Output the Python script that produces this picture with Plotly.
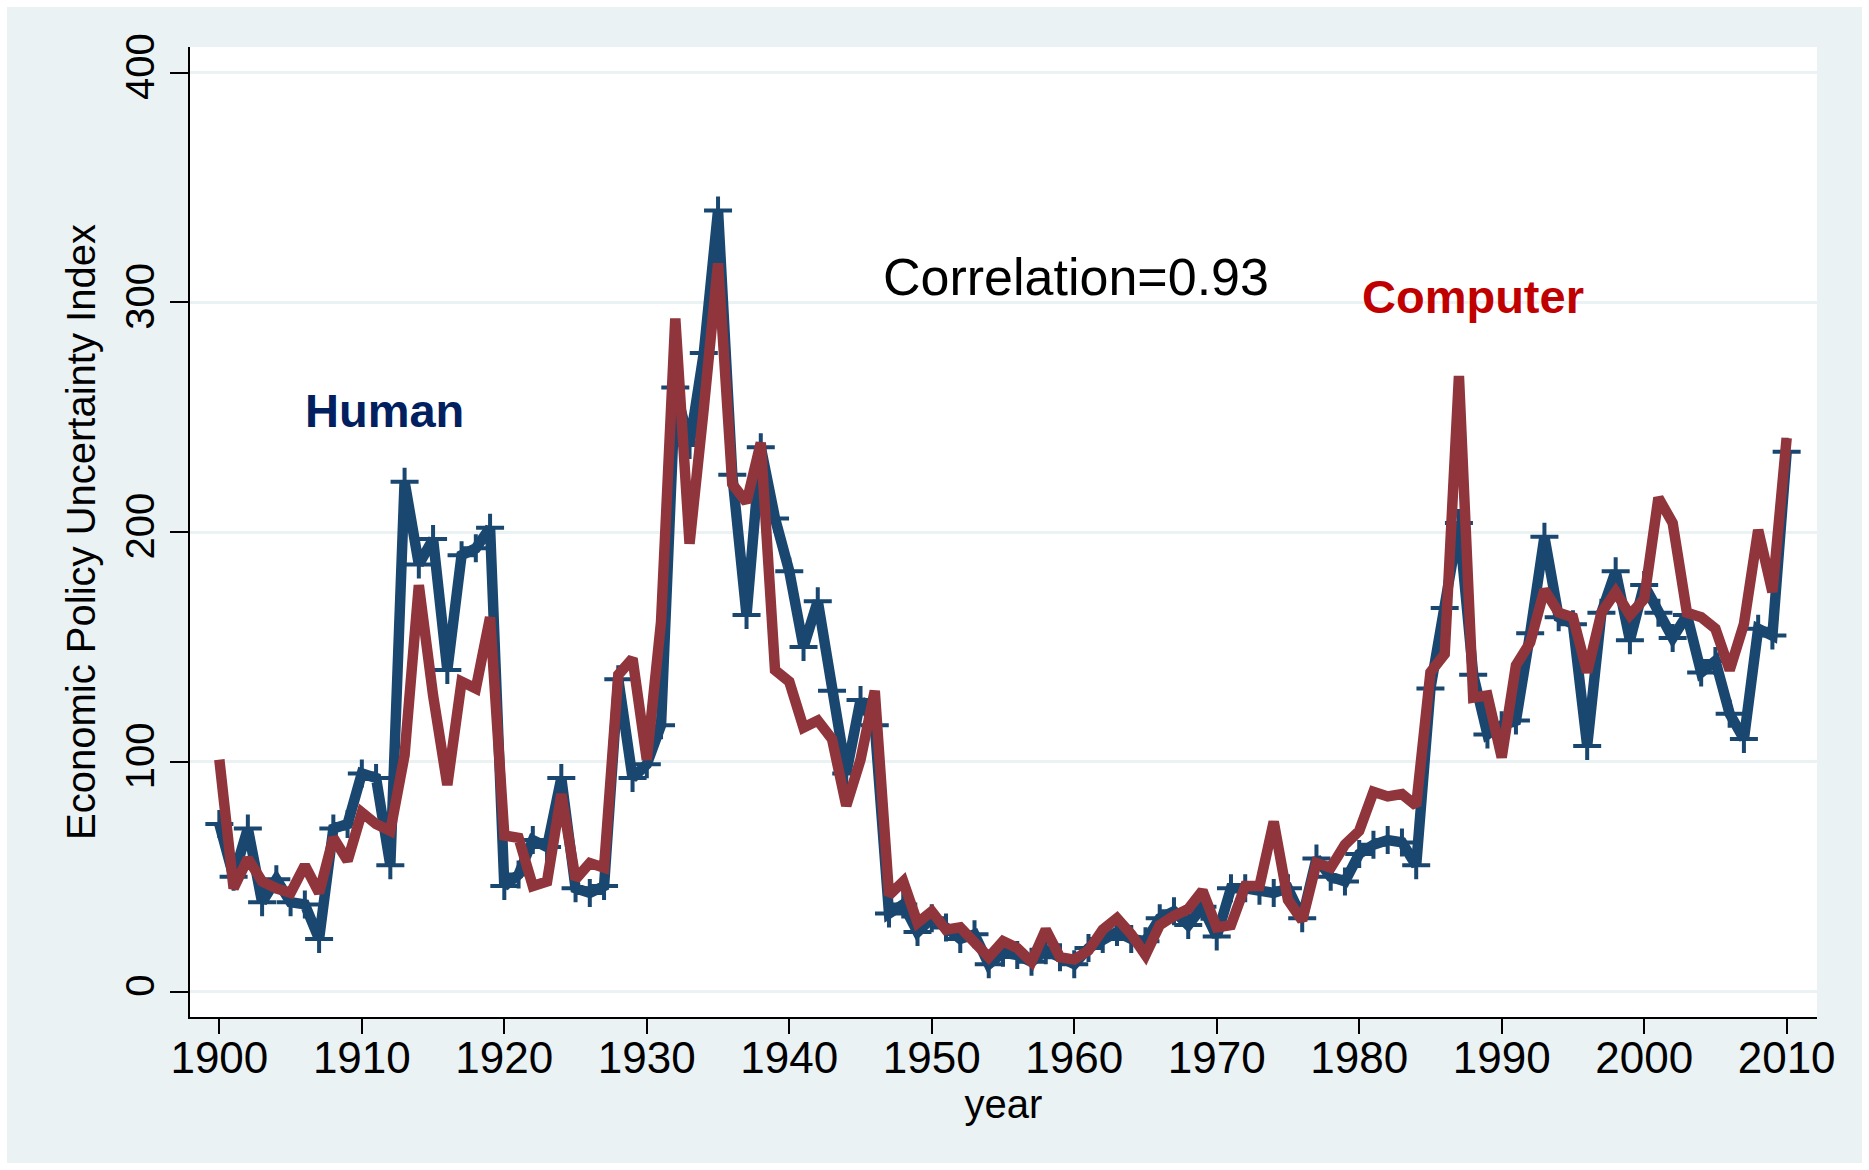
import plotly.graph_objects as go

years = list(range(1900, 2011))

human = [73, 50, 71, 39, 49, 39, 38, 23, 71, 73,
         95, 93, 55, 222, 186, 197, 140, 190, 193, 202,
         46, 51, 66, 63, 93, 45, 43, 46, 136, 93,
         99, 116, 263, 238, 278, 340, 225, 164, 237, 206,
         183, 150, 170, 131, 95, 127, 116, 34, 38, 26,
         32, 28, 23, 25, 12, 17, 16, 13, 18, 15,
         12, 19, 23, 26, 23, 22, 32, 35, 29, 37,
         24, 45, 45, 44, 43, 45, 32, 58, 50, 48,
         60, 64, 66, 65, 55, 132, 167, 204, 138, 112,
         116, 118, 156, 198, 163, 160, 107, 165, 183, 153,
         177, 165, 154, 164, 139, 144, 121, 110, 158, 155,
         235]

computer = [101, 45, 58, 48, 45, 43, 55, 43, 67, 57,
            78, 73, 70, 103, 177, 129, 90, 135, 132, 163,
            68, 67, 46, 48, 86, 49, 56, 54, 138, 145,
            101, 161, 293, 195, 254, 317, 221, 213, 239, 140,
            135, 115, 118, 110, 81, 101, 131, 42, 48, 30,
            35, 27, 28, 22, 15, 22, 19, 13, 27, 15,
            14, 18, 27, 32, 25, 16, 29, 33, 36, 44,
            28, 29, 46, 46, 74, 40, 31, 56, 54, 64,
            70, 87, 85, 86, 81, 139, 147, 268, 128, 129,
            102, 142, 152, 175, 165, 163, 139, 165, 174, 164,
            171, 215, 204, 165, 163, 158, 140, 160, 201, 174,
            241]

x_ticks = [1900, 1910, 1920, 1930, 1940, 1950, 1960, 1970, 1980, 1990, 2000, 2010]
y_ticks = [0, 100, 200, 300, 400]

BLUE = "#1A476F"
RED = "#90353B"
BG = "#EAF2F3"
FONT = "Liberation Sans, Arial, Helvetica, sans-serif"

W, H = 1869, 1170
L, R, T, B = 190, 52, 47, 153

fig = go.Figure()
fig.add_trace(go.Scatter(
    x=years, y=human, mode="lines+markers", name="Human",
    line=dict(color=BLUE, width=10.5),
    marker=dict(symbol="cross-thin", size=20, line=dict(color=BLUE, width=4)),
))
fig.add_trace(go.Scatter(
    x=years, y=computer, mode="lines", name="Computer",
    line=dict(color=RED, width=10.5),
))

fig.add_annotation(x=1960.1, y=311, text="Correlation=0.93", showarrow=False,
                   font=dict(family=FONT, size=52, color="black"), xanchor="center", yanchor="middle")
fig.add_annotation(x=1911.6, y=253, text="<b>Human</b>", showarrow=False,
                   font=dict(family=FONT, size=47, color="#00205F"), xanchor="center", yanchor="middle")
fig.add_annotation(x=1988.0, y=302.5, text="<b>Computer</b>", showarrow=False,
                   font=dict(family=FONT, size=47, color="#C00000"), xanchor="center", yanchor="middle")

pw = W - L - R
ph = H - T - B
# white outer border around the grey graph region
fig.add_shape(type="rect", xref="paper", yref="paper",
              x0=-L / pw, x1=(W - L) / pw, y0=-B / ph, y1=(H - B) / ph,
              line=dict(color="white", width=14), fillcolor="rgba(0,0,0,0)", layer="above")

fig.update_layout(
    width=W, height=H,
    margin=dict(l=L, r=R, t=T, b=B, pad=0),
    paper_bgcolor=BG, plot_bgcolor="white",
    showlegend=False,
    font=dict(family=FONT, color="black"),
)
fig.update_xaxes(
    range=[1897.94, 2012.13], tickvals=x_ticks, ticktext=[str(v) for v in x_ticks],
    showgrid=False, zeroline=False, showline=True, linecolor="black", linewidth=2,
    ticks="outside", ticklen=15, tickwidth=2, tickcolor="black", ticklabelstandoff=-14,
    tickfont=dict(size=44, family=FONT, color="black"),
    title=dict(text="year", font=dict(size=40, family=FONT, color="black"), standoff=8),
)
fig.update_yaxes(
    range=[-11.0, 411.2], tickvals=y_ticks, ticktext=[str(v) for v in y_ticks],
    showgrid=True, gridcolor=BG, gridwidth=3, zeroline=False,
    showline=True, linecolor="black", linewidth=2,
    ticks="outside", ticklen=18, tickwidth=2, tickcolor="black", tickangle=-90,
    tickfont=dict(size=40, family=FONT, color="black"),
    title=dict(text="Economic Policy Uncertainty Index", font=dict(size=40, family=FONT, color="black"), standoff=10),
)

fig.write_html("out.html", config={"displayModeBar": False},
               post_script="document.body.style.margin='0';")
